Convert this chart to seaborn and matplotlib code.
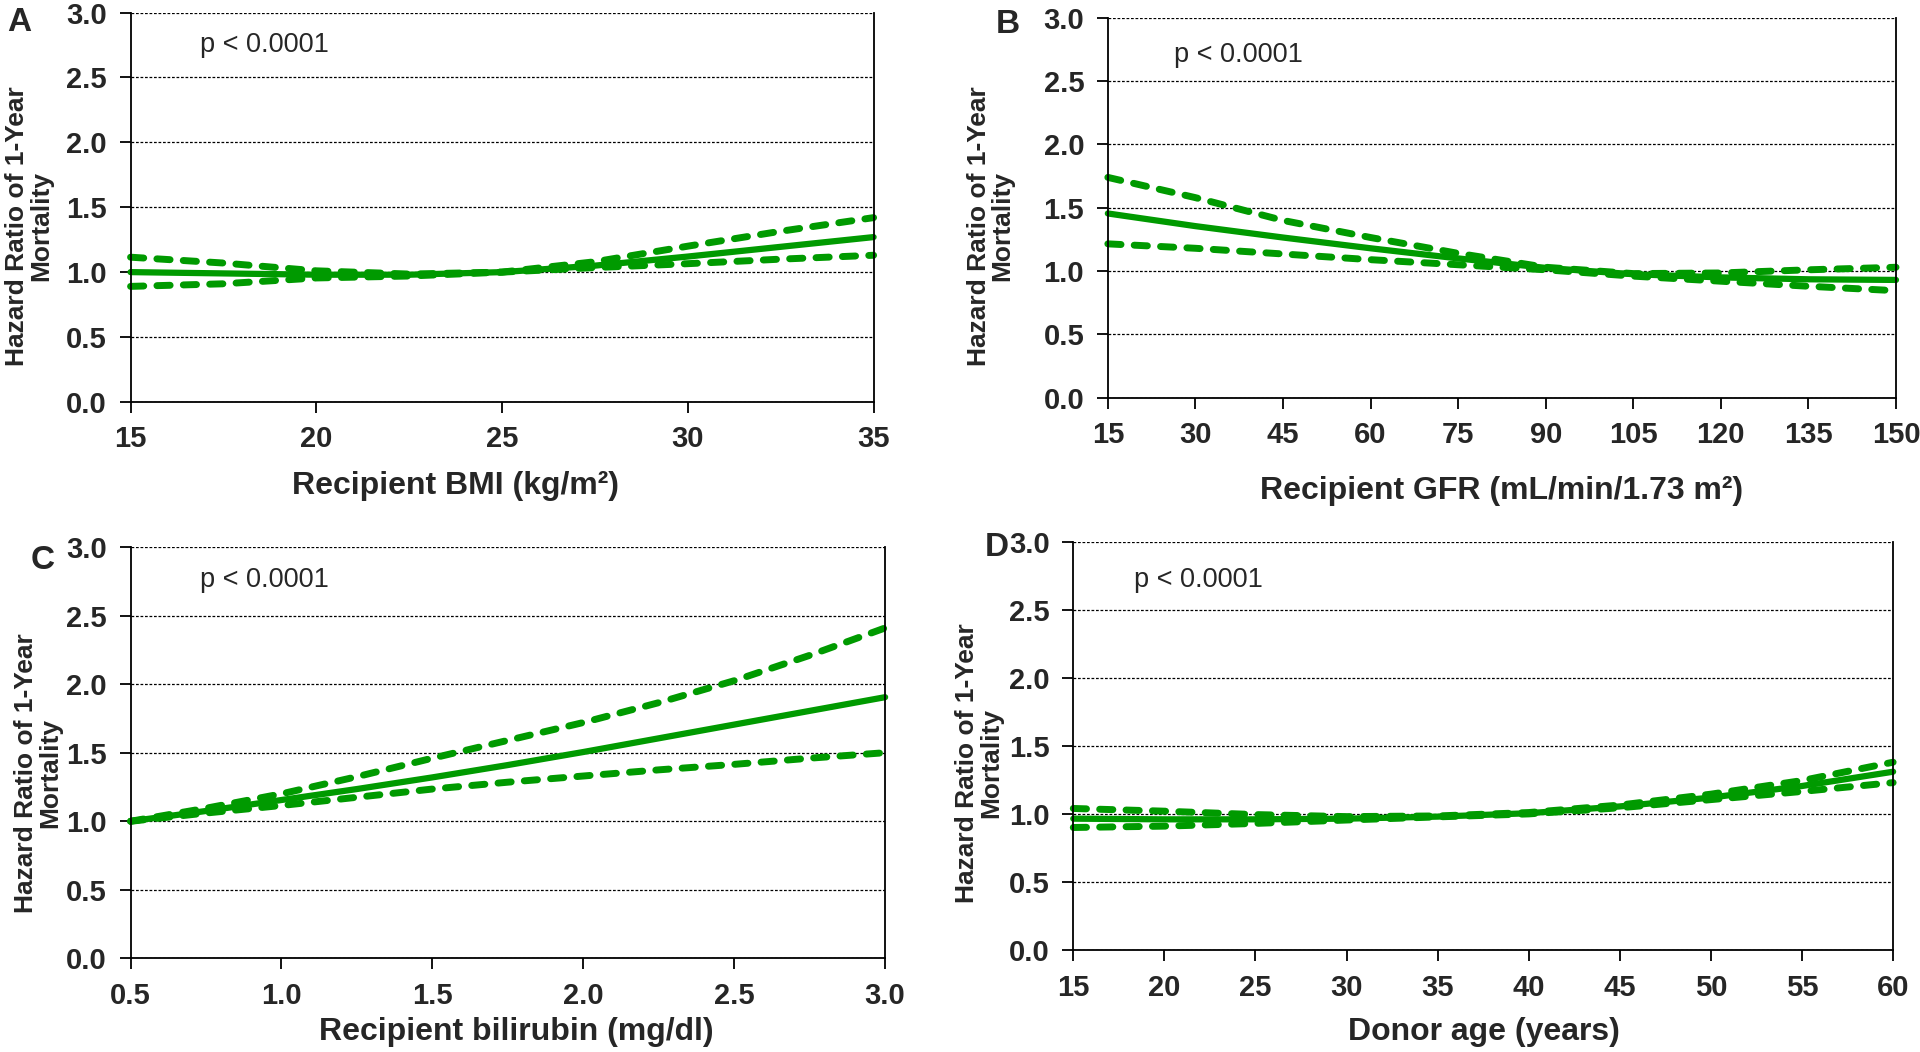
import pandas as pd
import seaborn as sns
import matplotlib.pyplot as plt
import numpy as np

# Panel A: recipient BMI
bmi_x = [15, 17.5, 20, 22.5, 25, 27.5, 30, 32.5, 35]
bmi_hr = [1.00, 0.99, 0.98, 0.98, 1.00, 1.05, 1.12, 1.195, 1.27]
bmi_upper = [1.115, 1.07, 1.01, 0.985, 1.00, 1.08, 1.20, 1.315, 1.42]
bmi_lower = [0.89, 0.91, 0.955, 0.97, 1.00, 1.035, 1.065, 1.10, 1.13]

# Panel B: recipient GFR
gfr_x = [15, 30, 45, 60, 75, 90, 105, 120, 135, 150]
gfr_hr = [1.455, 1.355, 1.265, 1.18, 1.10, 1.025, 0.975, 0.95, 0.935, 0.93]
gfr_upper = [1.74, 1.58, 1.40, 1.265, 1.14, 1.03, 0.98, 0.985, 1.01, 1.03]
gfr_lower = [1.215, 1.18, 1.135, 1.09, 1.05, 1.01, 0.96, 0.92, 0.88, 0.845]

# Panel C: recipient bilirubin
bili_x = [0.5, 0.75, 1.0, 1.25, 1.5, 1.75, 2.0, 2.25, 2.5, 2.75, 3.0]
bili_hr = [1.0, 1.075, 1.155, 1.235, 1.32, 1.41, 1.505, 1.605, 1.705, 1.805, 1.905]
bili_upper = [1.0, 1.095, 1.2, 1.325, 1.46, 1.59, 1.72, 1.865, 2.025, 2.21, 2.41]
bili_lower = [1.0, 1.06, 1.115, 1.175, 1.235, 1.285, 1.33, 1.375, 1.415, 1.46, 1.5]

# Panel D: donor age
age_x = [15, 20, 25, 30, 35, 40, 45, 50, 55, 60]
age_hr = [0.965, 0.96, 0.96, 0.965, 0.98, 1.005, 1.055, 1.12, 1.205, 1.31]
age_upper = [1.04, 1.02, 0.995, 0.98, 0.985, 1.01, 1.065, 1.145, 1.245, 1.38]
age_lower = [0.90, 0.91, 0.93, 0.955, 0.978, 1.0, 1.045, 1.105, 1.165, 1.23]

yticks = [0.0, 0.5, 1.0, 1.5, 2.0, 2.5, 3.0]

panels = [
    # letter, x, hr, upper, lower, xticks, xfmt, xlabel, axes rect, p pos, letter pos, ylabel pos, xlabel pos
    ("A", bmi_x, bmi_hr, bmi_upper, bmi_lower, [15, 20, 25, 30, 35], "{:.0f}",
     "Recipient BMI (kg/m²)", [0.068, 0.618, 0.387, 0.370], (0.094, 0.918),
     (0.010, 0.979), (0.015, 0.785), (0.237, 0.538)),
    ("B", gfr_x, gfr_hr, gfr_upper, gfr_lower, list(range(15, 151, 15)), "{:.0f}",
     "Recipient GFR (mL/min/1.73 m²)", [0.577, 0.622, 0.4105, 0.361], (0.084, 0.903),
     (0.525, 0.977), (0.516, 0.785), (0.782, 0.533)),
    ("C", bili_x, bili_hr, bili_upper, bili_lower, [0.5, 1.0, 1.5, 2.0, 2.5, 3.0], "{:.1f}",
     "Recipient bilirubin (mg/dl)", [0.068, 0.089, 0.393, 0.391], (0.092, 0.920),
     (0.022, 0.467), (0.020, 0.265), (0.269, 0.019)),
    ("D", age_x, age_hr, age_upper, age_lower, list(range(15, 61, 5)), "{:.0f}",
     "Donor age (years)", [0.559, 0.097, 0.427, 0.388], (0.074, 0.907),
     (0.519, 0.480), (0.510, 0.275), (0.773, 0.019)),
]

green = "#009a00"

sns.set_theme(style="white")
plt.rcParams["font.family"] = ["Liberation Sans", "DejaVu Sans"]

fig = plt.figure(figsize=(19.2, 10.52), dpi=100)

for (letter, xs, hr, up, lo, xticks, xfmt, xlabel, rect,
     ppos, lpos, ylpos, xlpos) in panels:
    ax = fig.add_axes(rect)
    df = pd.DataFrame({"x": xs, "hr": hr, "upper": up, "lower": lo})

    ax.set_xlim(xticks[0], xticks[-1])
    ax.set_ylim(0, 3.0)
    ax.set_yticks(yticks)
    ax.set_xticks(xticks)
    ax.set_yticklabels([f"{v:.1f}" for v in yticks])
    ax.set_xticklabels([xfmt.format(v) for v in xticks])
    ax.yaxis.grid(True, color="black", linestyle=(0, (2.2, 1.4)), lw=0.9)
    ax.xaxis.grid(False)
    ax.set_axisbelow(True)

    for col in ["upper", "lower"]:
        sns.lineplot(data=df, x="x", y=col, ax=ax, color=green, lw=5,
                     linestyle=(0, (1.9, 1.9)), dash_capstyle="round",
                     errorbar=None, clip_on=False)
    sns.lineplot(data=df, x="x", y="hr", ax=ax, color=green, lw=4.5,
                 errorbar=None, clip_on=False)

    ax.set_xlabel("")
    ax.set_ylabel("")
    ax.spines["top"].set_visible(False)
    for s in ["left", "bottom", "right"]:
        ax.spines[s].set_color("black")
        ax.spines[s].set_linewidth(1.3)
    ax.tick_params(axis="both", which="major", direction="out", length=8,
                   width=1.3, color="black", labelsize=21, pad=9,
                   bottom=True, left=True)
    for t in ax.get_xticklabels() + ax.get_yticklabels():
        t.set_fontweight("bold")

    ax.text(ppos[0], ppos[1], "p < 0.0001", transform=ax.transAxes,
            fontsize=19.5, ha="left", va="center")
    fig.text(lpos[0], lpos[1], letter, fontsize=24, fontweight="bold",
             ha="center", va="center")
    fig.text(ylpos[0], ylpos[1], "Hazard Ratio of 1-Year\nMortality",
             rotation=90, fontsize=19, fontweight="bold", ha="center",
             va="center", multialignment="center", linespacing=1.0)
    fig.text(xlpos[0], xlpos[1], xlabel, fontsize=23, fontweight="bold",
             ha="center", va="center")

fig.savefig("out.png", dpi=100)
